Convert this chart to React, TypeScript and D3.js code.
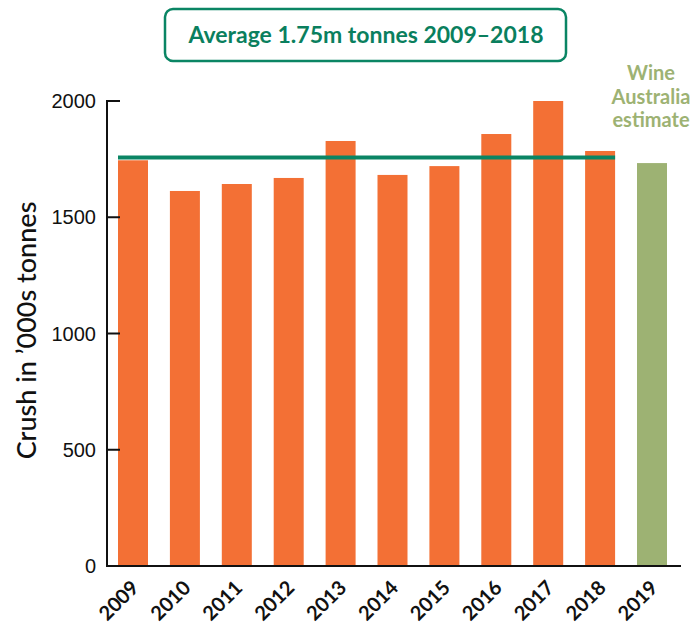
import React from "react";
import * as d3 from "d3";

const years = ["2009","2010","2011","2012","2013","2014","2015","2016","2017","2018","2019"];
const crush = [1745,1613,1643,1669,1828,1682,1720,1858,2000,1785,1733];
const estimateYears = ["2019"];
const averageValue = 1757;
const yTicks = [0,500,1000,1500,2000];
const titleText = "Average 1.75m tonnes 2009\u20132018";
const estimateLabel = ["Wine","Australia","estimate"];
const yAxisTitle = "Crush in \u2019000s tonnes";

export default function App() {
  const W = 693, H = 630;
  const x0 = 107, yTop = 101, yBottom = 566;
  const x = d3.scaleBand().domain(years).range([107, 678]).paddingInner(0.422).paddingOuter(0.212);
  const y = d3.scaleLinear().domain([0, 2000]).range([yBottom, yTop]);
  const bw = x.bandwidth();
  const avgYears = years.filter(yr => !estimateYears.includes(yr));
  const lx1 = x(avgYears[0])!;
  const lx2 = x(avgYears[avgYears.length - 1])! + bw;
  const tickFont = "'Liberation Sans', Arial, sans-serif";
  const geo = "Lato, 'Open Sans', sans-serif";
  return (
    <svg width={W} height={H} style={{ position: "absolute", left: 0, top: 0 }}>
      <rect x={0} y={0} width={W} height={H} fill="#fff" />
      {/* title box */}
      <rect x={165} y={9} width={401} height={52} rx={8} fill="#fff" stroke="#0a8564" strokeWidth={2.5} />
      <text x={366} y={43} textAnchor="middle" fontFamily={geo} fontWeight={700} fontSize={23} fill="#0a7f5e">{titleText}</text>
      {/* bars */}
      {years.map((yr, i) => (
        <rect key={yr} x={x(yr)} y={y(crush[i])} width={bw} height={yBottom - y(crush[i])}
          fill={estimateYears.includes(yr) ? "#9db273" : "#f37035"} />
      ))}
      {/* average line */}
      <line x1={lx1} x2={lx2} y1={y(averageValue)} y2={y(averageValue)} stroke="#0a8564" strokeWidth={4} />
      {/* axes */}
      <line x1={x0} x2={x0} y1={yTop - 1} y2={yBottom + 1} stroke="#111" strokeWidth={2} />
      <line x1={x0 - 1} x2={681} y1={yBottom} y2={yBottom} stroke="#111" strokeWidth={2} />
      {yTicks.map(t => (
        <g key={t}>
          <line x1={x0} x2={x0 + 13} y1={y(t)} y2={y(t)} stroke="#111" strokeWidth={2} />
          <text x={96} y={y(t)} dy="0.36em" textAnchor="end" fontFamily={tickFont} fontSize={20} fill="#111">{t}</text>
        </g>
      ))}
      {years.map(yr => {
        const cx = x(yr)! + bw / 2 + 7;
        const cy = 589;
        return (
          <text key={yr} x={cx} y={cy} transform={`rotate(-45 ${cx} ${cy})`} textAnchor="end"
            fontFamily={geo} fontWeight={700} fontSize={20} fill="#111">{yr}</text>
        );
      })}
      <text x={0} y={0} transform={`translate(36 ${(yTop + yBottom) / 2 - 3}) rotate(-90)`} textAnchor="middle"
        fontFamily={geo} fontWeight={500} fontSize={27} fill="#111">{yAxisTitle}</text>
      {estimateLabel.map((s, i) => (
        <text key={s} x={651} y={80 + i * 23.5} textAnchor="middle" fontFamily={geo} fontWeight={700}
          fontSize={20} fill="#9db273">{s}</text>
      ))}
    </svg>
  );
}
